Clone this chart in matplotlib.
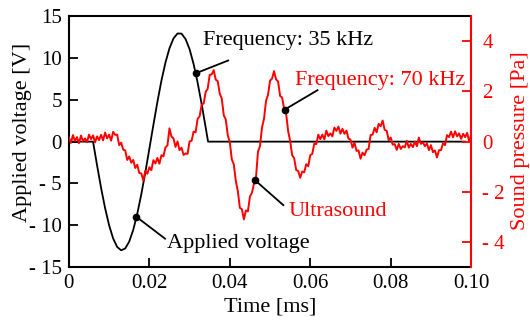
import numpy as np
import matplotlib.pyplot as plt

plt.rcParams['font.family'] = ['Liberation Serif', 'DejaVu Serif']
plt.rcParams['font.size'] = 15

# applied voltage (black), one 35 kHz cycle
volt_t = [0, 0.006, 0.007, 0.008, 0.009, 0.010, 0.011, 0.012, 0.013, 0.014,
          0.015, 0.016, 0.017, 0.018, 0.019, 0.020, 0.021, 0.022, 0.023,
          0.024, 0.025, 0.026, 0.027, 0.028, 0.029, 0.030, 0.031, 0.032,
          0.033, 0.034, 0.0346, 0.0985]
volt_v = [0, 0, -2.83, -5.53, -7.96, -10.01, -11.58, -12.59, -12.99, -12.77,
          -11.94, -10.54, -8.61, -6.29, -3.67, -0.85, 1.99, 4.75, 7.29,
          9.45, 11.16, 12.34, 12.93, 12.91, 12.26, 11.05, 9.27, 7.05,
          4.48, 1.69, 0, 0]

# sound pressure (red), sampled every 0.0005 ms
sound_t = np.linspace(0, 0.1, 201)
sound_p = [0.17, -0.05, 0.26, 0.03, 0.18, -0.06, 0.24, 0.02, 0.13, -0.02,
           0.28, 0.10, 0.25, -0.03, 0.21, 0.06, 0.27, 0.05, 0.36, 0.13,
           0.28, 0.04, 0.39, 0.27, 0.28, -0.14, -0.04, -0.32, -0.35, -0.73,
           -0.59, -0.84, -0.73, -1.05, -0.92, -1.25, -1.27, -1.55, -1.16, -1.28,
           -1.02, -1.14, -0.74, -0.87, -0.65, -0.88, -0.54, -0.59, -0.23, -0.15,
           0.53, 0.20, 0.13, -0.21, 0.01, -0.34, -0.24, -0.53, -0.47, -0.49,
           0.01, 0.03, 0.40, 0.37, 0.91, 1.01, 1.47, 1.52, 1.98, 2.11,
           2.66, 2.68, 2.85, 2.47, 2.41, 1.91, 1.72, 1.05, 0.88, 0.25,
           -0.02, -0.71, -0.91, -1.58, -1.97, -2.64, -2.69, -3.10, -2.74, -2.78,
           -2.19, -2.04, -1.68, -1.45, -0.40, -0.18, 0.56, 0.91, 1.62, 1.87,
           2.43, 2.51, 2.81, 2.48, 2.40, 1.82, 1.76, 1.31, 1.12, 0.42,
           0.03, -0.54, -0.66, -1.13, -1.17, -1.44, -1.19, -1.22, -0.90, -0.98,
           -0.54, -0.49, -0.08, -0.10, 0.28, 0.10, 0.28, 0.09, 0.44, 0.22,
           0.33, 0.21, 0.56, 0.43, 0.60, 0.32, 0.51, 0.31, 0.44, 0.12,
           0.08, -0.24, -0.04, -0.37, -0.35, -0.68, -0.44, -0.54, -0.32, -0.29,
           0.26, 0.28, 0.55, 0.37, 0.71, 0.61, 0.84, 0.47, 0.43, 0.06,
           0.16, -0.12, -0.10, -0.33, -0.09, -0.29, -0.18, -0.23, 0.03, -0.24,
           -0.09, -0.22, 0.0, -0.18, 0.16, -0.09, -0.03, -0.18, -0.07, -0.34,
           -0.14, -0.42, -0.35, -0.63, -0.34, -0.34, -0.07, -0.14, 0.26, 0.18,
           0.40, 0.17, 0.41, 0.21, 0.33, 0.11, 0.31, 0.18, 0.35, 0.02,
           0.26]

x_ticks = [0, 0.02, 0.04, 0.06, 0.08, 0.10]
x_labels = ['0', '0.02', '0.04', '0.06', '0.08', '0.10']
v_ticks = [-15, -10, -5, 0, 5, 10, 15]
v_labels = ['- 15', '- 10', '- 5', '0', '5', '10', '15']
p_ticks = [-4, -2, 0, 2, 4]
p_labels = ['- 4', '- 2', '0', '2', '4']

red = '#ff0000'

fig = plt.figure(figsize=(5.3, 3.23), dpi=100)
ax = fig.add_axes([0.130, 0.173, 0.759, 0.777])
ax2 = ax.twinx()

ax.plot(volt_t, volt_v, color='black', lw=1.3)
ax2.plot(sound_t, sound_p, color=red, lw=1.4)

ax.set_xlim(0, 0.1)
ax.set_ylim(-15, 15)
ax2.set_ylim(-5, 5)

ax.set_xticks(x_ticks)
ax.set_xticklabels(x_labels)
ax.set_yticks(v_ticks)
ax.set_yticklabels(v_labels)
ax2.set_yticks(p_ticks)
ax2.set_yticklabels(p_labels)

ax.tick_params(direction='in', length=6.5, width=1.3, pad=5)
ax2.tick_params(axis='y', direction='in', length=6.5, width=1.3, pad=8,
                colors=red)

for s in ['left', 'bottom', 'top']:
    ax.spines[s].set_linewidth(1.5)
    ax2.spines[s].set_visible(False)
ax.spines['right'].set_visible(False)
ax2.spines['right'].set_color(red)
ax2.spines['right'].set_linewidth(1.5)

ax.set_xlabel('Time [ms]', fontsize=16, labelpad=3)
ax.set_ylabel('Applied voltage [V]', fontsize=16)
ax.yaxis.set_label_coords(-0.092, 0.538)
ax2.set_ylabel('Sound pressure [Pa]', color=red, fontsize=16)
ax2.yaxis.set_label_coords(1.100, 0.506)

# annotations: dot on curve, leader line, label
def note(a, tx, ty, ex, ey, lx, ly, text, col):
    a.plot([tx, ex], [ty, ey], color='black', lw=1.3)
    a.plot(tx, ty, 'o', color='black', ms=4.5)
    a.text(lx, ly, text, color=col, va='center', ha='left', fontsize=16)

t1 = 0.0315
note(ax, t1, np.interp(t1, volt_t, volt_v), 0.0396, 9.7, 0.0333, 12.1,
     'Frequency: 35 kHz', 'black')
t2 = 0.0168
note(ax, t2, np.interp(t2, volt_t, volt_v), 0.0239, -11.6, 0.0243, -12.2,
     'Applied voltage', 'black')
t3 = 0.0536
note(ax2, t3, np.interp(t3, sound_t, sound_p), 0.0618, 2.05, 0.0562, 2.45,
     'Frequency: 70 kHz', red)
t4 = 0.0463
note(ax2, t4, np.interp(t4, sound_t, sound_p), 0.0533, -2.53, 0.0547, -2.8,
     'Ultrasound', red)

fig.savefig('out.png', dpi=100)
